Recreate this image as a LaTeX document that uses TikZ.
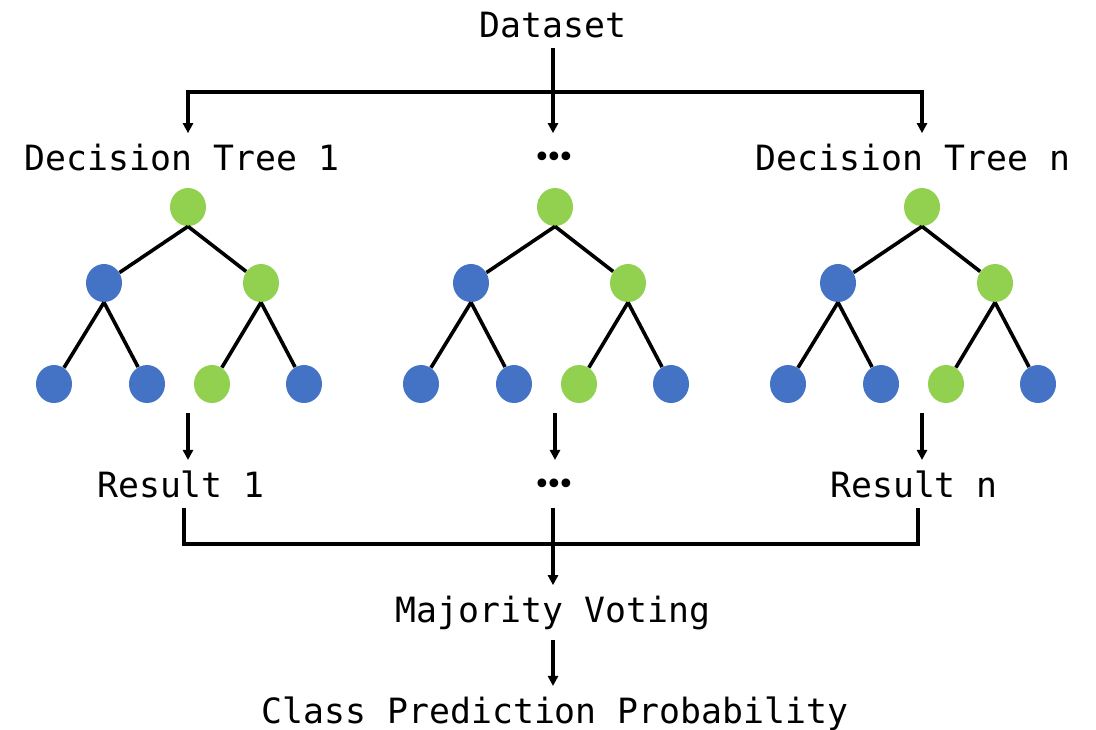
\documentclass[tikz,border=0pt]{standalone}
\usepackage{fontspec}
\setmainfont{DejaVu Sans Mono}
\newfontfamily\dotfont{DejaVu Sans}
\usetikzlibrary{arrows.meta}
\usetikzlibrary{shapes.geometric}

\definecolor{leafgreen}{RGB}{146,208,80}
\definecolor{leafblue}{RGB}{68,114,196}

\newcommand{\moredots}{{\dotfont\fontsize{15pt}{17pt}\selectfont •\kern-2.9pt•\kern-2.9pt•}}

\begin{document}
\begin{tikzpicture}[x = 0.5pt, y = -0.5pt, > = {Triangle[length=5pt, width=5pt]},
	every node/.style = {font=\fontsize{17.4pt}{20pt}\selectfont, inner sep=5pt},
	label/.style = {anchor=base},
	wire/.style = {line width=1.6pt},
	edge/.style = {line width=1.8pt},
	yes/.style = {ellipse, fill=leafgreen, minimum width=18pt, minimum height=19pt, inner sep=0pt},
	no/.style = {ellipse, fill=leafblue, minimum width=18pt, minimum height=19pt, inner sep=0pt},
	]

	\useasboundingbox (0,0) rectangle (1096,729);

	% text
	\node[label] (dataset) at (553,37) {Dataset};
	\node[label] (tree1) at (182,170) {Decision Tree 1};
	\node[label] (treedots) at (554,167) {\moredots};
	\node[label] (treen) at (913,170) {Decision Tree n};
	\node[label] (res1) at (181,497) {Result 1};
	\node[label] (resdots) at (554,494) {\moredots};
	\node[label] (resn) at (914,497) {Result n};
	\node[label] (vote) at (553,622) {Majority Voting};
	\node[label] (prob) at (555,723) {Class Prediction Probability};

	% the three trees
	\foreach \t/\x in {1/188, d/555, n/922} {
		\node[yes] (root\t) at (\x,207) {};
		\node[no]  (a\t) at ({\x-84},283) {};
		\node[yes] (b\t) at ({\x+73},283) {};
		\node[no]  (aa\t) at ({\x-134},384) {};
		\node[no]  (ab\t) at ({\x-41},384) {};
		\node[yes] (ba\t) at ({\x+24},384) {};
		\node[no]  (bb\t) at ({\x+116},384) {};
		\draw[edge] (root\t.south) -- (a\t);
		\draw[edge] (root\t.south) -- (b\t);
		\draw[edge] (a\t.south) -- (aa\t);
		\draw[edge] (a\t.south) -- (ab\t);
		\draw[edge] (b\t.south) -- (ba\t);
		\draw[edge] (b\t.south) -- (bb\t);
		\coordinate (out\t) at (\x,413);
	}

	% dataset to trees
	\coordinate (split) at (553,92);
	\draw[wire] (dataset.south) -- (split);
	\draw[wire,->] (split) -| (root1 |- tree1.north);
	\draw[wire,->] (split) -- (split |- tree1.north);
	\draw[wire,->] (split) -| (rootn |- treen.north);

	% trees to results
	\draw[wire,->] (out1) -- (out1 |- res1.north);
	\draw[wire,->] (outd) -- (outd |- res1.north);
	\draw[wire,->] (outn) -- (outn |- resn.north);

	% results to voting
	\coordinate (join) at (553,544);
	\draw[wire] ([xshift=-2]out1 |- res1.south) |- (join) -| ([xshift=-2]outn |- resn.south);
	\draw[wire,->] (join |- res1.south) -- (vote.north);
	\draw[wire,->] (vote.south) -- (vote.south |- prob.north);

\end{tikzpicture}
\end{document}
